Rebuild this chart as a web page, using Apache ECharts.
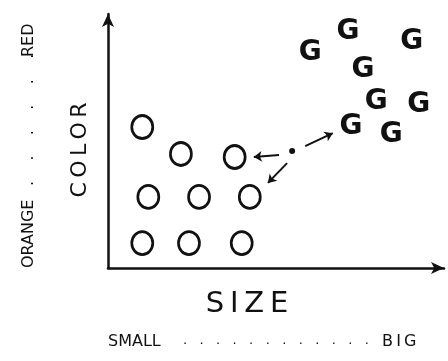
<!DOCTYPE html>
<html>
<head>
<meta charset="utf-8">
<script src="https://cdn.jsdelivr.net/npm/echarts@6/dist/echarts.min.js"></script>
<style>
  html, body { margin: 0; padding: 0; background: #fff; }
  #chart { width: 448px; height: 361px; }
</style>
</head>
<body>
<div id="chart"></div>
<script>
// Fruit measured by size (x) and colour (y)
const orangePoints = [
  [1.02, 5.55], [2.17, 4.49], [3.77, 4.37],
  [1.20, 2.80], [2.71, 2.80], [4.22, 2.80],
  [1.02, 0.98], [2.41, 0.98], [3.98, 0.98]
];
const grapefruitPoints = [
  [6.02, 8.46], [7.14, 9.29], [9.04, 8.90], [7.59, 7.80],
  [7.98, 6.54], [9.25, 6.42], [7.23, 5.55], [8.43, 5.24]
];
// Unknown fruit and arrows to its nearest neighbours
const queryPoint = [[5.48, 4.61]];
const neighbourArrows = [
  [[5.09, 4.45], [4.34, 4.37]],
  [[5.33, 4.13], [4.76, 3.35]],
  [[5.87, 4.80], [6.69, 5.31]]
];
const xAxisName = 'S\u2009I\u2009Z\u2009E';
const yAxisName = 'C\u2009O\u2009L\u2009O\u2009R';
// Scale end labels and the dotted runs between them
const xRangeEnds = ['SMALL', 'B\u2009I\u2009G'];
const yRangeEnds = ['ORANGE', 'RED'];
const xDotCount = 12;
const yDotCount = 6;

const font = '"DejaVu Sans", sans-serif';
const ink = '#111';

function dotRun(n, gap) {
  return Array(n).fill('.').join(' '.repeat(gap));
}

const rangeStyle = { fontFamily: 'DejaVu Sans', fontSize: 16, fill: ink };

const chart = echarts.init(document.getElementById('chart'), null, { renderer: 'canvas' });
chart.setOption({
  backgroundColor: '#fff',
  animation: false,
  grid: { left: 108, right: 4, top: 14, bottom: 93 },
  xAxis: {
    type: 'value', min: 0, max: 10,
    name: xAxisName, nameLocation: 'middle', nameGap: 22,
    nameTextStyle: { fontFamily: font, fontSize: 29, color: ink, padding: [0, 58, 0, 0] },
    axisLine: { show: true, symbol: ['none', 'arrow'], symbolSize: [9, 13],
      lineStyle: { color: ink, width: 2.5 } },
    axisTick: { show: false }, axisLabel: { show: false }, splitLine: { show: false }
  },
  yAxis: {
    type: 'value', min: 0, max: 10,
    name: yAxisName, nameLocation: 'middle', nameGap: 17, nameRotate: 90,
    nameTextStyle: { fontFamily: font, fontSize: 22, color: ink, padding: [0, 18, 0, 0] },
    axisLine: { show: true, symbol: ['none', 'arrow'], symbolSize: [9, 13],
      lineStyle: { color: ink, width: 2.5 } },
    axisTick: { show: false }, axisLabel: { show: false }, splitLine: { show: false }
  },
  graphic: [
    // horizontal scale: SMALL ....... BIG
    { type: 'text', x: 108, y: 334, style: Object.assign({ text: xRangeEnds[0] }, rangeStyle) },
    { type: 'text', x: 183, y: 334,
      style: { text: dotRun(xDotCount, 3), fontFamily: 'DejaVu Sans', fontSize: 13, fill: ink } },
    { type: 'text', x: 382, y: 334, style: Object.assign({ text: xRangeEnds[1] }, rangeStyle) },
    // vertical scale: ORANGE ....... RED
    { type: 'text', x: 21, y: 268, rotation: Math.PI / 2,
      style: Object.assign({ text: yRangeEnds[0] }, rangeStyle) },
    { type: 'text', x: 21, y: 186, rotation: Math.PI / 2,
      style: { text: dotRun(yDotCount, 4), fontFamily: 'DejaVu Sans', fontSize: 16, fill: ink } },
    { type: 'text', x: 21, y: 57, rotation: Math.PI / 2,
      style: Object.assign({ text: yRangeEnds[1] }, rangeStyle) }
  ],
  series: [
    {
      type: 'scatter', data: orangePoints,
      symbol: 'circle', symbolSize: [21, 23],
      itemStyle: { color: 'rgba(0,0,0,0)', borderColor: ink, borderWidth: 2.8, opacity: 1 }
    },
    {
      type: 'scatter', data: grapefruitPoints,
      symbolSize: 2, itemStyle: { color: 'rgba(0,0,0,0)', opacity: 1 },
      label: { show: true, position: 'inside', formatter: 'G',
        fontFamily: font, fontSize: 28, fontWeight: 'bold', color: ink, opacity: 1 }
    },
    {
      type: 'scatter', data: queryPoint,
      symbol: 'circle', symbolSize: 6, itemStyle: { color: ink, opacity: 1 }
    },
    {
      type: 'lines', coordinateSystem: 'cartesian2d',
      data: neighbourArrows.map(c => ({ coords: c })),
      symbol: ['none', 'arrow'], symbolSize: 8,
      lineStyle: { color: ink, width: 2, opacity: 1 }
    }
  ]
});
</script>
</body>
</html>
